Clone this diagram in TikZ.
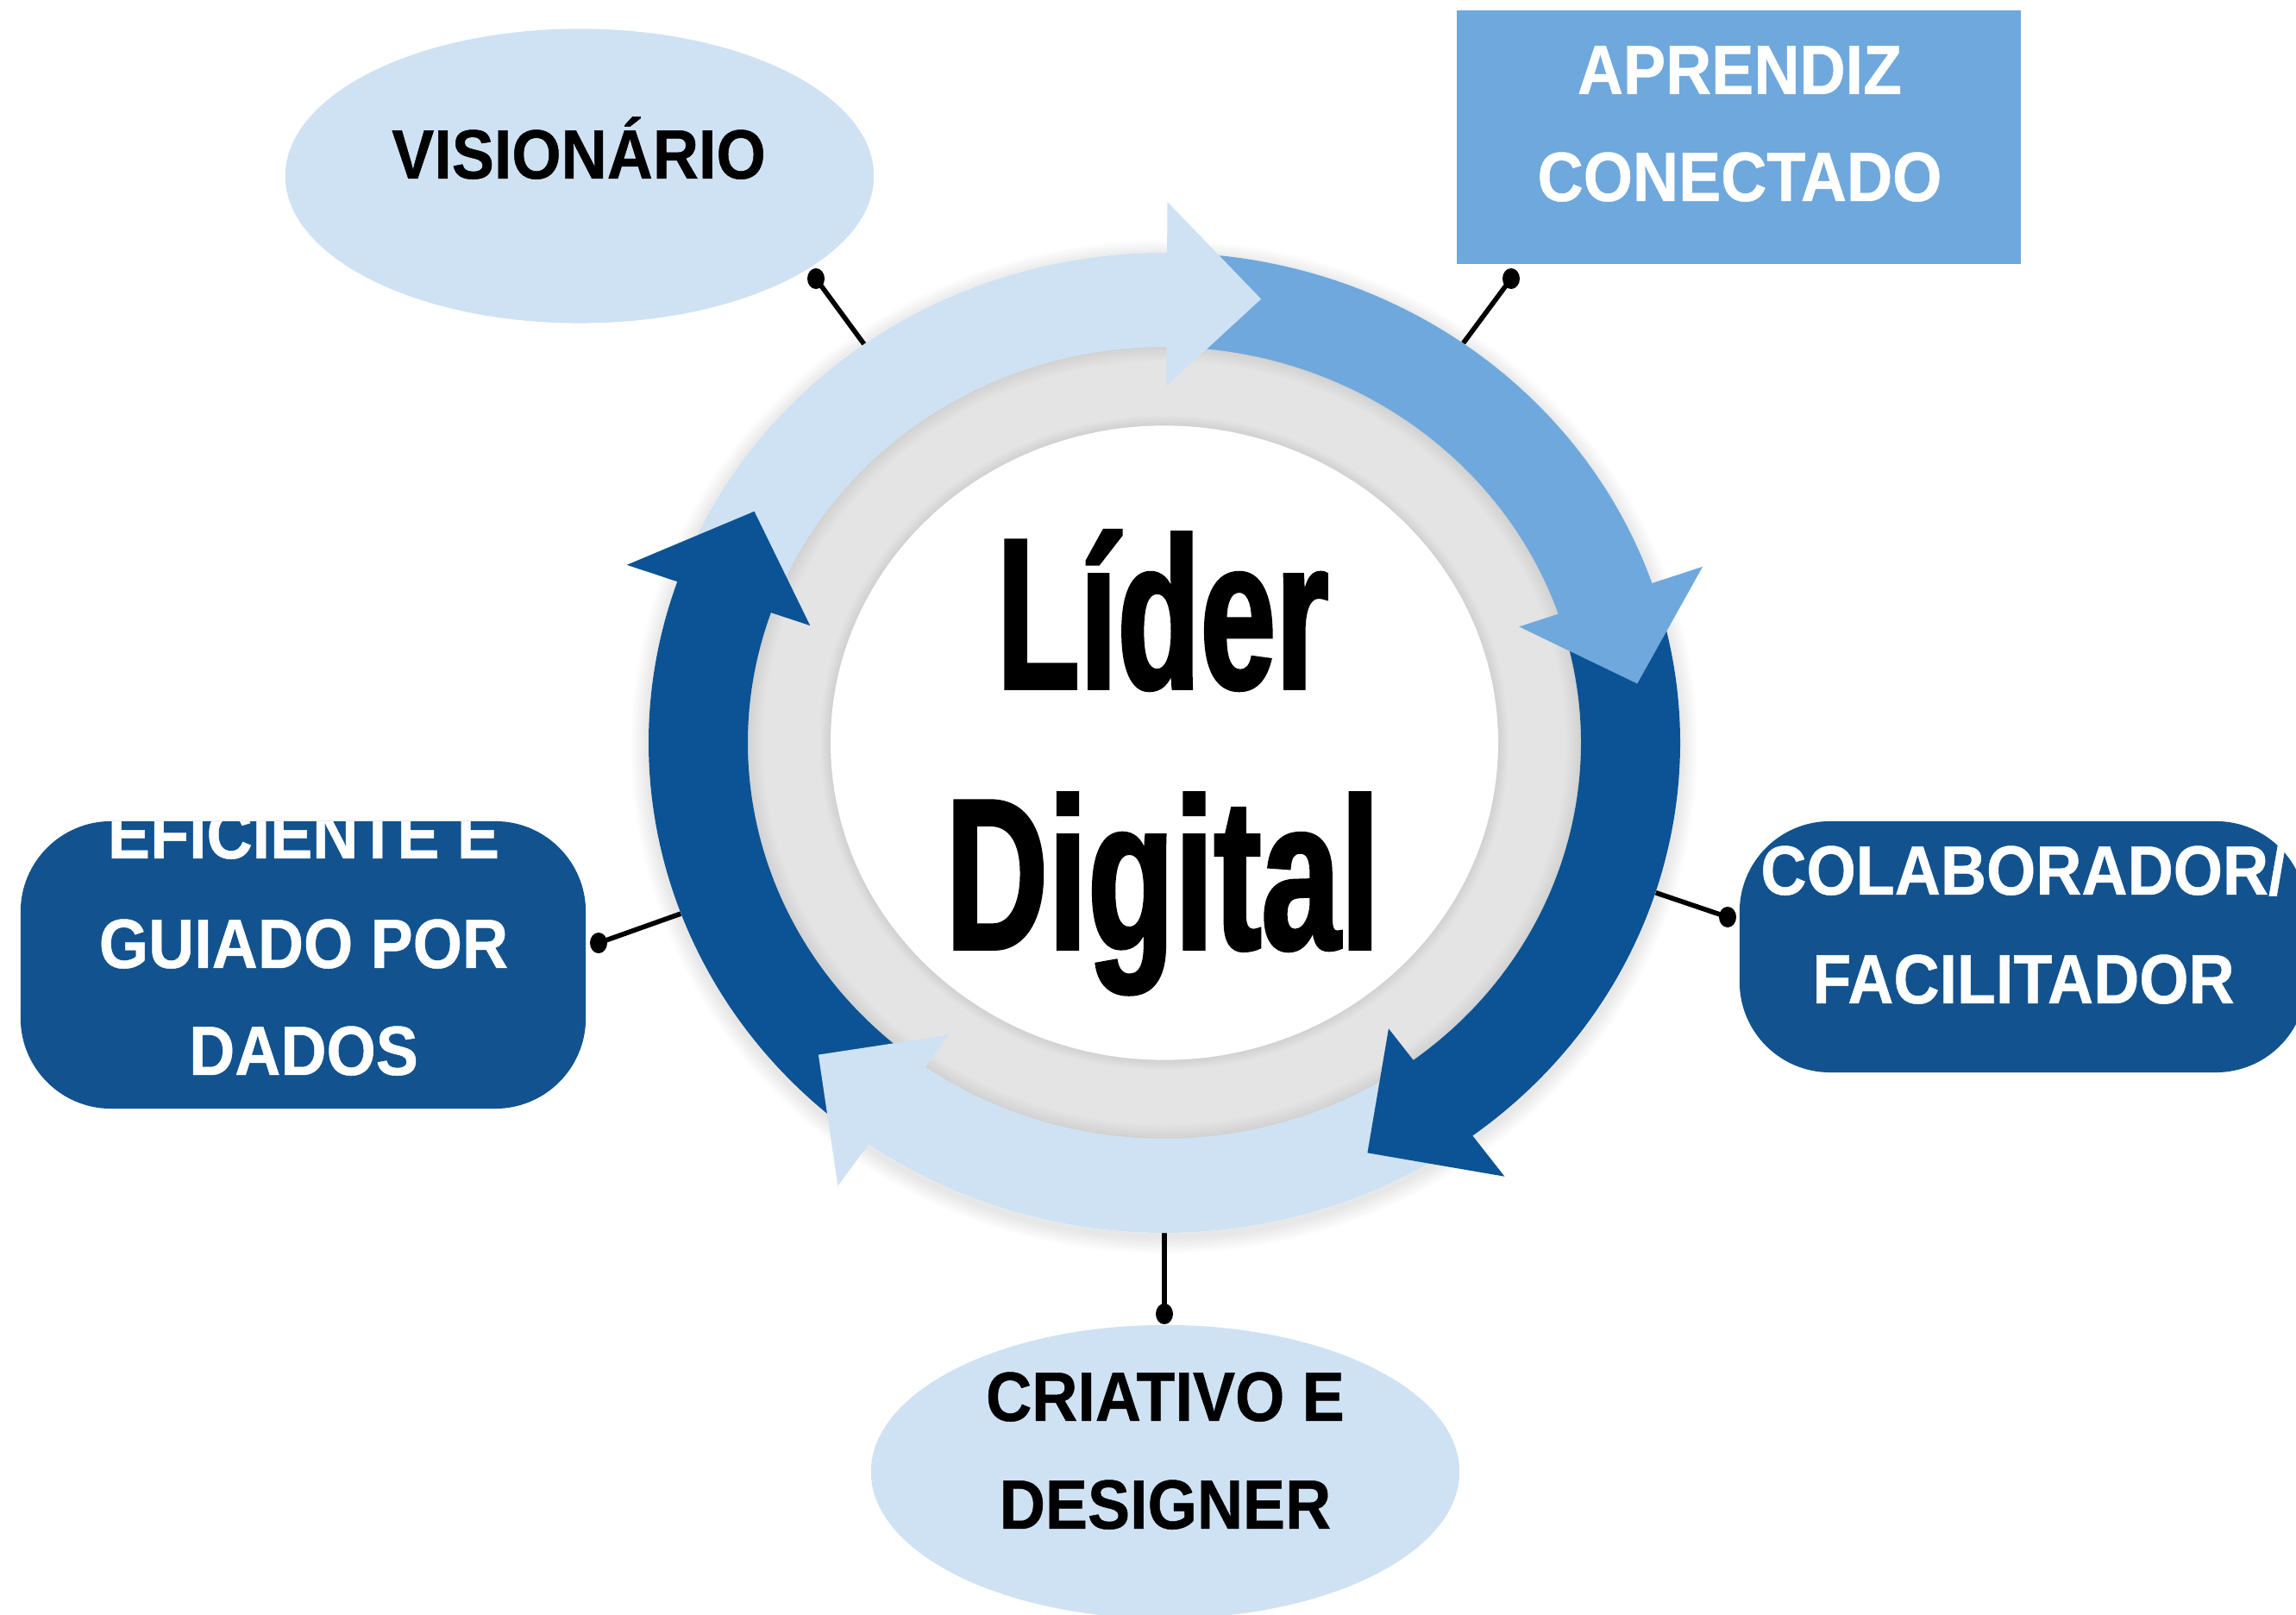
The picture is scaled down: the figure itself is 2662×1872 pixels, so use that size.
\documentclass[tikz,border=0pt]{standalone}
\usepackage{fontspec}
\setmainfont{Liberation Sans}
\newfontfamily\boxfont[FakeStretch=0.91,FakeBold=0.6]{Liberation Sans}
\newfontfamily\condA[FakeStretch=0.63,FakeBold=1.5]{Liberation Sans}
\newfontfamily\condB[FakeStretch=0.66,FakeBold=1.5]{Liberation Sans}
\usetikzlibrary{shapes.geometric}
\definecolor{lb}{HTML}{CFE2F3}
\definecolor{mb}{HTML}{6FA8DC}
\definecolor{db}{HTML}{0B5394}
\definecolor{dbox}{HTML}{12538F}
\definecolor{ringgray}{HTML}{E4E4E4}
\begin{document}
\begin{tikzpicture}[x=0.01cm,y=0.01cm,
  lbl/.style={font=\boxfont\bfseries\fontsize{23}{28}\selectfont, anchor=base, inner sep=0pt},
  bigA/.style={font=\condA\bfseries\fontsize{71}{80}\selectfont, anchor=base, inner sep=0pt},
  bigB/.style={font=\condB\bfseries\fontsize{71}{80}\selectfont, anchor=base, inner sep=0pt},
  conn/.style={line width=1.6pt, black},
  dotn/.style={ellipse, fill=black, inner sep=0pt, minimum width=0.2cm, minimum height=0.24cm},
  ovalbox/.style={ellipse, fill=lb, inner sep=0pt, minimum width=6.82cm, minimum height=3.41cm},
  roundbox/.style={rectangle, rounded corners=1.05cm, fill=dbox, inner sep=0pt},
]
\useasboundingbox (0,0) rectangle (2662,1872);
\fill[white] (0,0) rectangle (2662,1872);
\clip (0,0) rectangle (2662,1872);

% ---------- ring anchor points ----------
\begin{scope}[shift={(1350,1011)}, yscale=0.95]
  \coordinate (rV) at (125.6:598);
  \coordinate (rA) at (54.6:598);
  \coordinate (rC) at (-17.8:598);
  \coordinate (rE) at (200.4:598);
  \coordinate (rD) at (270:598);
\end{scope}

% connectors (behind the ring)
\coordinate (pV) at (946,1549);
\coordinate (pA) at (1752,1549);
\coordinate (pC) at (2003,809);
\coordinate (pE) at (694,779);
\coordinate (pD) at (1350,349);
\draw[conn] (pV) -- (rV);
\draw[conn] (pA) -- (rA);
\draw[conn] (pC) -- (rC);
\draw[conn] (pE) -- (rE);
\draw[conn] (pD) -- (rD);

\begin{scope}[shift={(1350,1011)}, yscale=0.95]
  % soft outer shadow
  \foreach \k in {1,...,8} \fill[black, opacity=0.012] (0,-5) circle ({598+2.5*\k});
  \fill[white] (0,0) circle (598);
  \fill[ringgray] (0,0) circle (500);
  % shadow under band inner edge
  \foreach \k in {1,...,6} \fill[black, opacity=0.012, even odd rule] (0,0) circle (484) circle ({484-3*\k});
  % soft edge round the white disc
  \foreach \k in {1,...,6} \fill[black, opacity=0.01] (0,0) circle ({387+2*\k});
  \fill[white] (0,0) circle (387);
  % arrow bodies
  \foreach \t/\b/\c in {158/89.7/lb, 87/19/mb, 16/-53.3/db, -56/-125/lb, 232/160.8/db}
    \fill[\c] ({\t}:598) arc[start angle=\t, end angle={\b-1}, radius=598]
      -- ({\b-1}:483) arc[start angle={\b-1}, end angle=\t, radius=483] -- cycle;
  % arrow heads
  \foreach \b/\p/\c in {89.7/78.3/lb, 19/7.5/mb, -53.3/-64.8/db, -125/-136.5/lb, 160.8/149.3/db}
    \fill[\c] ({\b}:660) -- ({\p}:553) -- ({\b}:435) -- cycle;
\end{scope}

% centre title
\node[bigA] (lider) at (1348,1074) {Líder};
\node[bigB] (digital) at (1348,772) {Digital};

% ---------- boxes ----------
\node[ovalbox] (vis) at (672,1668) {};
\node[lbl, text=black] (visT) at (671,1665) {VISIONÁRIO};

\node[rectangle, fill=mb, inner sep=0pt, minimum width=6.54cm, minimum height=2.94cm] (apr) at (2016,1713) {};
\node[lbl, text=white] (aprT1) at (2017,1763) {APRENDIZ};
\node[lbl, text=white] (aprT2) at (2017,1639) {CONECTADO};

\node[roundbox, minimum width=6.57cm, minimum height=2.91cm] (col) at (2345.5,774.5) {};
\node[lbl, text=white] (colT1) at (2346,835) {COLABORADOR/};
\node[lbl, text=white] (colT2) at (2346,709) {FACILITADOR};

\node[roundbox, minimum width=6.55cm, minimum height=3.33cm] (efi) at (351.5,753.5) {};
\begin{scope}
  \clip[rounded corners=1.05cm] (24,587) rectangle (679,920);
  \node[lbl, text=white] (efiT1) at (352,877) {EFICIENTE E};
\end{scope}
\node[lbl, text=white] (efiT2) at (352,750) {GUIADO POR};
\node[lbl, text=white] (efiT3) at (352,626) {DADOS};

\node[ovalbox, minimum height=3.40cm] (cri) at (1351,166) {};
\node[lbl, text=black] (criT1) at (1351,225) {CRIATIVO E};
\node[lbl, text=black] (criT2) at (1351,100) {DESIGNER};

% end dots on top
\node[dotn] (dV) at (pV) {};
\node[dotn] (dA) at (pA) {};
\node[dotn] (dC) at (pC) {};
\node[dotn] (dE) at (pE) {};
\node[dotn] (dD) at (pD) {};
\end{tikzpicture}
\end{document}
